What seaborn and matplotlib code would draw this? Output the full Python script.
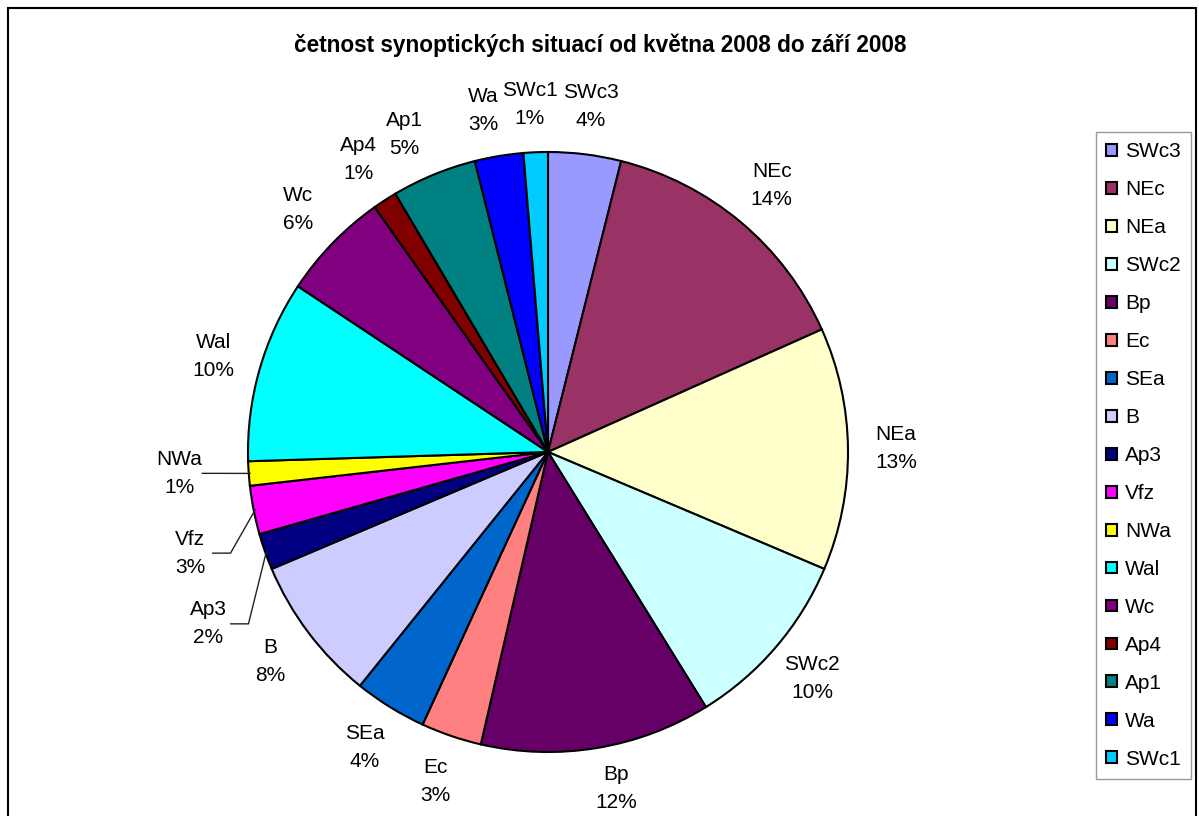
import numpy as np
import matplotlib
matplotlib.use("Agg")
import matplotlib.pyplot as plt
import seaborn as sns
from matplotlib.patches import Rectangle

sns.set_theme(style="white")
plt.rcParams['font.family'] = ['Liberation Sans', 'DejaVu Sans']
plt.rcParams['text.color'] = 'black'

# ---- data ----
categories = ["SWc3", "NEc", "NEa", "SWc2", "Bp", "Ec", "SEa", "B", "Ap3",
              "Vfz", "NWa", "Wal", "Wc", "Ap4", "Ap1", "Wa", "SWc1"]
days = [6, 22, 20, 15, 19, 5, 6, 12, 3, 4, 2, 15, 9, 2, 7, 4, 2]
colors = ["#9999FF", "#993366", "#FFFFCC", "#CCFFFF", "#660066", "#FF8080",
          "#0066CC", "#CCCCFF", "#000080", "#FF00FF", "#FFFF00", "#00FFFF",
          "#800080", "#800000", "#008080", "#0000FF", "#00CCFF"]
title = "četnost synoptických situací od května 2008 do září 2008"

W, H = 1199, 816
fig = plt.figure(figsize=(W / 100, H / 100), dpi=100)
fig.patch.set_facecolor("white")

# pie axes: centre (548,452) px, radius 300 px
cx, cy, r = 548, 452, 300
ax = fig.add_axes([(cx - r) / W, (H - cy - r) / H, 2 * r / W, 2 * r / H])
ax.set_xlim(-1, 1)
ax.set_ylim(-1, 1)
ax.axis("off")

wedges, _ = ax.pie(days, colors=colors, startangle=90, counterclock=False,
                   radius=1.0, center=(0, 0), frame=False,
                   wedgeprops=dict(edgecolor="black", linewidth=1.5))
ax.set_xlim(-1, 1)
ax.set_ylim(-1, 1)

total = sum(days)
fs = 15
# label placement tweaks (radius, angular shift in degrees) for crowded labels
special = {"NWa": (1.23, -0.8), "Vfz": (1.24, 4.6), "Ap3": (1.27, 7.4)}
nudge = {"Ap1": (2.0, 1.16), "Wa": (1.3, 1.16), "SWc1": (0.7, 1.16),
         "Bp": (2.0, 1.145)}
for w, name, v in zip(wedges, categories, days):
    mid = np.deg2rad((w.theta1 + w.theta2) / 2)
    pct = f"{round(100 * v / total):d}%"
    if name in special:
        rad, shift = special[name]
        ang = mid + np.deg2rad(shift)
        lx, ly = rad * np.cos(ang), rad * np.sin(ang)
        ex, ey = 0.995 * np.cos(mid), 0.995 * np.sin(mid)
        sx = lx + 0.075
        ax.plot([sx, sx + 0.06, ex], [ly, ly, ey], color="#222222",
                lw=1.0, clip_on=False, zorder=1)
    else:
        shift, rad = nudge.get(name, (0.0, 1.16))
        ang = mid + np.deg2rad(shift)
        lx, ly = rad * np.cos(ang), rad * np.sin(ang)
    ax.text(lx, ly, f"{name}\n{pct}", ha="center", va="center",
            fontsize=fs, linespacing=1.6, clip_on=False, color="black")

# title
fig.text(600 / W, 1 - 45 / H, title, ha="center", va="center",
         fontsize=16.3, fontweight="bold", color="black")

# legend
leg = fig.legend(wedges, categories, loc="upper left",
                 bbox_to_anchor=(1096 / W, 1 - 132 / H),
                 bbox_transform=fig.transFigure, borderaxespad=0,
                 fontsize=fs, frameon=True, fancybox=False, shadow=False,
                 handlelength=0.5, handleheight=0.5, handletextpad=0.4,
                 labelspacing=0.91, borderpad=0.5)
leg.get_frame().set_edgecolor("#808080")
leg.get_frame().set_linewidth(1.0)
for t in leg.get_texts():
    t.set_color("black")

# chart border
fig.add_artist(Rectangle((7.5 / W, -0.1), (1195.5 - 7.5) / W, 1 - 8 / H + 0.1,
                         transform=fig.transFigure, fill=False,
                         edgecolor="black", linewidth=1.5))

fig.savefig("out.png", dpi=100, facecolor="white")
